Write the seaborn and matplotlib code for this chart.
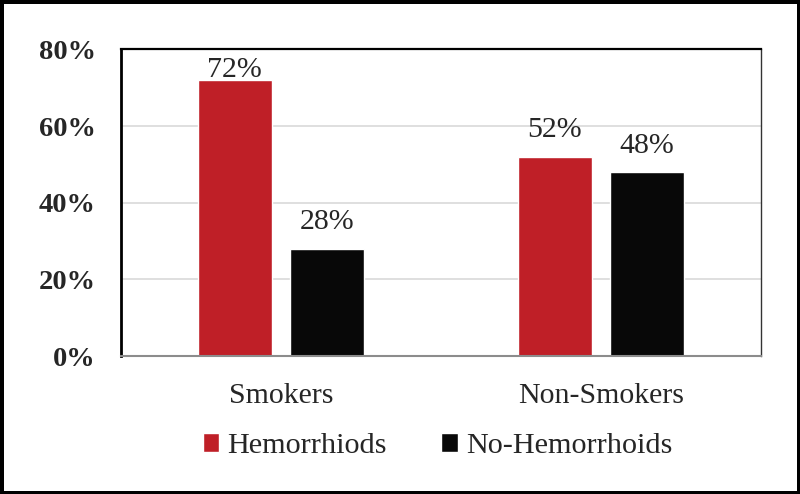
#!/usr/bin/env python3
import matplotlib
matplotlib.use("Agg")
import matplotlib.pyplot as plt
import pandas as pd
import seaborn as sns
from matplotlib.ticker import PercentFormatter

# data
groups = ["Smokers", "Non-Smokers"]
series = ["Hemorrhiods", "No-Hemorrhoids"]
hemorrhoids = [0.72, 0.52]
no_hemorrhoids = [0.28, 0.48]
yticks = [0.0, 0.2, 0.4, 0.6, 0.8]

colors = {"Hemorrhiods": "#BF1F27", "No-Hemorrhoids": "#080808"}

df = pd.DataFrame({
    "group": groups * 2,
    "series": [series[0]] * len(groups) + [series[1]] * len(groups),
    "value": hemorrhoids + no_hemorrhoids,
})

sns.set_theme(style="white")
plt.rcParams["font.family"] = ["Liberation Serif", "DejaVu Serif"]

fig = plt.figure(figsize=(8, 4.94), dpi=100)
ax = fig.add_axes([0.151, 0.279, 0.800, 0.621])

sns.barplot(data=df, x="group", y="value", hue="series", order=groups,
            hue_order=series, palette=colors, width=0.575, gap=0.2,
            saturation=1, ax=ax, legend=True)

ax.set_ylim(0, 0.8)
ax.set_xlim(-0.5, 0.5 + len(groups) - 1)
ax.set_yticks(yticks)
ax.yaxis.set_major_formatter(PercentFormatter(1.0, decimals=0))
ax.grid(axis="y", color="#d9d9d9", linewidth=1.2)
ax.set_axisbelow(True)
ax.set_xlabel("")
ax.set_ylabel("")
ax.tick_params(axis="y", labelsize=20.5, pad=18, length=0)
ax.tick_params(axis="x", labelsize=21.5, pad=19, length=0)
for lab in ax.get_yticklabels():
    lab.set_fontweight("bold")

ax.spines["left"].set_color("black")
ax.spines["left"].set_linewidth(2.0)
ax.spines["top"].set_color("black")
ax.spines["top"].set_linewidth(1.6)
ax.spines["right"].set_color("#333333")
ax.spines["right"].set_linewidth(1.0)
ax.spines["bottom"].set_color("#8c8c8c")
ax.spines["bottom"].set_linewidth(1.5)

# value labels; the tallest one is squeezed under the frame like the original
for cont in ax.containers:
    for bar in cont:
        h = bar.get_height()
        off = 2 if h > 0.7 else 14
        ax.annotate(f"{h:.0%}", (bar.get_x() + bar.get_width() / 2, h),
                    xytext=(0, off), textcoords="offset points",
                    ha="center", va="baseline", fontsize=21.5)

handles, labels = ax.get_legend_handles_labels()
ax.legend(handles, labels, loc="upper center", bbox_to_anchor=(0.495, -0.212),
          ncol=2, frameon=False, fontsize=21.8, handlelength=0.55,
          handleheight=0.55, handletextpad=0.27, columnspacing=1.8,
          borderaxespad=0)

fig.patch.set_edgecolor("black")
fig.patch.set_linewidth(5)

fig.savefig("out.png", dpi=100, edgecolor=fig.get_edgecolor())
